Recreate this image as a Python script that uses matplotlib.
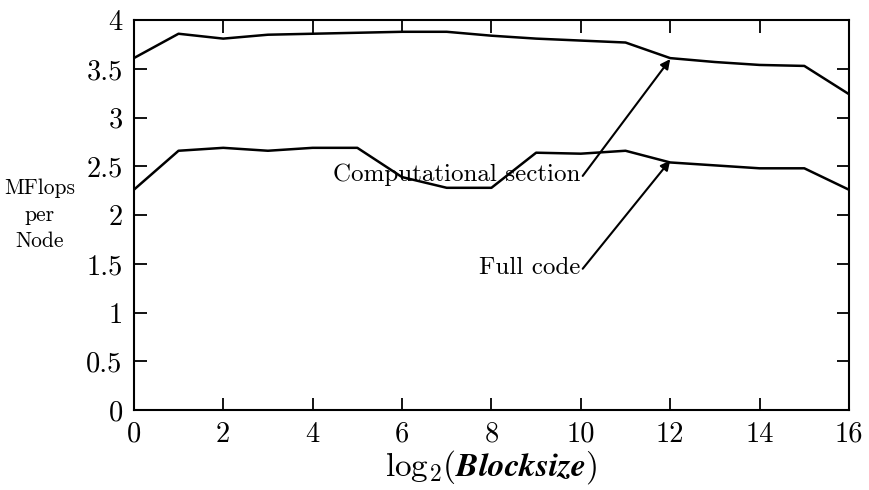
import numpy as np
import matplotlib
matplotlib.use("Agg")
from matplotlib import pyplot as plt

plt.rcParams['font.family'] = 'cmr10'
plt.rcParams['mathtext.fontset'] = 'cm'
plt.rcParams['axes.unicode_minus'] = False
plt.rcParams['axes.formatter.use_mathtext'] = True

# log2(blocksize)
blocksize = [0, 1, 2, 3, 4, 5, 6, 7, 8, 9, 10, 11, 12, 13, 14, 15, 16]
# MFlops per node
comp_section = [3.61, 3.86, 3.81, 3.85, 3.86, 3.87, 3.88, 3.88, 3.84, 3.81,
                3.79, 3.77, 3.61, 3.57, 3.54, 3.53, 3.24]
full_code = [2.26, 2.66, 2.69, 2.66, 2.69, 2.69, 2.39, 2.28, 2.28, 2.64,
             2.63, 2.66, 2.54, 2.51, 2.48, 2.48, 2.26]

xticks = [0, 2, 4, 6, 8, 10, 12, 14, 16]
yticks = [0, 0.5, 1, 1.5, 2, 2.5, 3, 3.5, 4]
ylabels = ['0', '0.5', '1', '1.5', '2', '2.5', '3', '3.5', '4']

fig = plt.figure(figsize=(8.69, 4.9), dpi=100)
ax = fig.add_axes([0.154, 0.163, 0.823, 0.796])

ax.plot(blocksize, comp_section, color='black', lw=1.8)
ax.plot(blocksize, full_code, color='black', lw=1.8)

ax.set_xlim(0, 16)
ax.set_ylim(0, 4)
ax.set_xticks(xticks)
ax.set_xticklabels([str(t) for t in xticks])
ax.set_yticks(yticks)
ax.set_yticklabels(ylabels)
ax.tick_params(direction='in', length=9, width=1.3, top=True, right=True,
               labelsize=20.5, pad=8)
for s in ax.spines.values():
    s.set_linewidth(1.5)

arrow = dict(arrowstyle='-|>', color='black', lw=1.5, mutation_scale=14,
             shrinkA=0, shrinkB=0, relpos=(1.0, 0.3))
ax.annotate('Computational section', xy=(12, 3.6), xytext=(9.98, 2.41),
            ha='right', va='center', fontsize=18, arrowprops=arrow)
ax.annotate('Full code', xy=(12, 2.56), xytext=(9.98, 1.46),
            ha='right', va='center', fontsize=18, arrowprops=arrow)

ax.set_xlabel(r'log$_2$($\mathbfit{Blocksize}$)', fontsize=24, va='center')
ax.xaxis.set_label_coords(0.5, -0.145)
fig.text(0.046, 0.561, 'MFlops\nper\nNode', ha='center', va='center',
         fontsize=15.5, linespacing=1.45)

fig.savefig('out.png', dpi=100)
